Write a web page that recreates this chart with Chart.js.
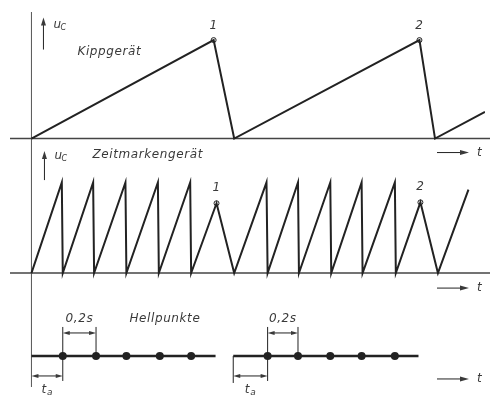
<!DOCTYPE html>
<html>
<head>
<meta charset="utf-8">
<script src="https://cdn.jsdelivr.net/npm/chart.js@4"></script>
<style>
  body { margin: 0; background: #fff; }
  canvas { display: block; }
</style>
</head>
<body>
<canvas id="chart" width="490" height="398"></canvas>
<script>
// Time in s, voltages relative to full tooth height
const tKipp = [0, 1.134, 1.262, 2.415, 2.512, 2.823];
const uKipp = [0, 1, 0, 1, 0, 0.27];

const tZeit = [0, 0.189, 0.195, 0.384, 0.390, 0.585, 0.591, 0.787, 0.793, 0.988, 0.994,
               1.152, 1.262, 1.463, 1.470, 1.659, 1.665, 1.860, 1.866, 2.055, 2.061,
               2.262, 2.268, 2.421, 2.530, 2.720];
const uZeit = [0, 1, 0, 1, 0, 1, 0, 1, 0, 1, 0,
               0.77, 0, 1, 0, 1, 0, 1, 0, 1, 0,
               1, 0, 0.78, 0, 0.92];

const peakLabels = ['1', '2'];
const tPeakKipp = [1.134, 2.415];
const uPeakKipp = [1, 1];
const tPeakZeit = [1.152, 2.421];
const uPeakZeit = [0.77, 0.78];

// Hellpunkte: two bursts
const tBurstStart = [0, 1.256];
const tBurstEnd = [1.146, 2.409];
const tDots1 = [0.195, 0.402, 0.591, 0.799, 0.994];
const tDots2 = [1.470, 1.659, 1.860, 2.055, 2.262];

const ink = '#222';
const textInk = '#3a3a3a';
const FONT = 'italic 12px "DejaVu Sans"';

function pts(xs, ys) {
    return xs.map((x, i) => ({ x: x, y: ys[i] }));
}

function arrowHead(ctx, x, y, dir, len, half) {
    // dir: 'r', 'l', 'u'
    ctx.beginPath();
    if (dir === 'r') {
        ctx.moveTo(x, y); ctx.lineTo(x - len, y - half); ctx.lineTo(x - len, y + half);
    } else if (dir === 'l') {
        ctx.moveTo(x, y); ctx.lineTo(x + len, y - half); ctx.lineTo(x + len, y + half);
    } else {
        ctx.moveTo(x, y); ctx.lineTo(x - half, y + len); ctx.lineTo(x + half, y + len);
    }
    ctx.closePath();
    ctx.fill();
}

function line(ctx, x1, y1, x2, y2) {
    ctx.beginPath();
    ctx.moveTo(x1, y1);
    ctx.lineTo(x2, y2);
    ctx.stroke();
}

function uLabel(ctx, x, y) {
    ctx.font = FONT;
    ctx.fillText('u', x, y);
    ctx.font = 'italic 8px "DejaVu Sans"';
    ctx.fillText('C', x + 7, y + 3);
}

const diagramPlugin = {
    id: 'diagram',
    beforeDatasetsDraw(chart) {
        const ctx = chart.ctx;
        const xs = chart.scales.x;
        const x0 = xs.getPixelForValue(0);
        const yTop = chart.scales.yKipp.getPixelForValue(0);
        const yMid = chart.scales.yZeit.getPixelForValue(0);
        ctx.save();
        ctx.strokeStyle = '#555';
        ctx.lineWidth = 1;
        line(ctx, x0, 12, x0, 387);
        ctx.strokeStyle = '#444';
        ctx.lineWidth = 1.5;
        line(ctx, 10, yTop, chart.width, yTop);
        line(ctx, 10, yMid, chart.width, yMid);
        ctx.restore();
    },
    afterDatasetsDraw(chart) {
        const ctx = chart.ctx;
        const xs = chart.scales.x;
        const yK = chart.scales.yKipp;
        const yZ = chart.scales.yZeit;
        const yH = chart.scales.yHell;
        const x0 = xs.getPixelForValue(0);
        const yTop = yK.getPixelForValue(0);
        const yMid = yZ.getPixelForValue(0);
        const yBot = yH.getPixelForValue(0);

        ctx.save();
        ctx.fillStyle = textInk;
        ctx.strokeStyle = ink;
        ctx.lineWidth = 1;
        ctx.textBaseline = 'middle';

        // u_C arrows
        line(ctx, x0 + 12, yTop - 89, x0 + 12, yTop - 116);
        arrowHead(ctx, x0 + 12, yTop - 121, 'u', 8, 2.5);
        uLabel(ctx, x0 + 22, yTop - 114);
        line(ctx, x0 + 13, yMid - 93, x0 + 13, yMid - 116);
        arrowHead(ctx, x0 + 13, yMid - 122, 'u', 8, 2.5);
        uLabel(ctx, x0 + 23, yMid - 117);

        ctx.font = FONT;
        ctx.letterSpacing = '0.6px';
        ctx.textAlign = 'left';
        ctx.fillText('Kippgerät', x0 + 46, yTop - 87);
        ctx.fillText('Zeitmarkengerät', x0 + 61, yMid - 118);
        ctx.fillText('Hellpunkte', x0 + 98, yBot - 37);

        // peak numbers
        ctx.textAlign = 'center';
        peakLabels.forEach((lab, i) => {
            ctx.fillText(lab, xs.getPixelForValue(tPeakKipp[i]), yK.getPixelForValue(uPeakKipp[i]) - 14);
            ctx.fillText(lab, xs.getPixelForValue(tPeakZeit[i]), yZ.getPixelForValue(uPeakZeit[i]) - 15);
        });

        // -> t arrows
        [yTop + 14, yMid + 15, yBot + 23].forEach(y => {
            line(ctx, 437, y, 462, y);
            arrowHead(ctx, 469, y, 'r', 9, 2.5);
            ctx.textAlign = 'left';
            ctx.fillText('t', 477, y);
        });

        // dimension lines for each burst
        [[tBurstStart[0], tDots1], [tBurstStart[1], tDots2]].forEach(([ts, dots], k) => {
            const xs0 = xs.getPixelForValue(ts);
            const xd1 = xs.getPixelForValue(dots[0]);
            const xd2 = xs.getPixelForValue(dots[1]);
            if (k === 1) line(ctx, xs0, yBot, xs0, yBot + 27);
            line(ctx, xd1, yBot - 29, xd1, yBot + 25);
            line(ctx, xd2, yBot - 29, xd2, yBot);
            // 0,2 s
            const yd = yBot - 23;
            line(ctx, xd1 + 5, yd, xd2 - 5, yd);
            arrowHead(ctx, xd1, yd, 'l', 7, 2);
            arrowHead(ctx, xd2, yd, 'r', 7, 2);
            // t_a
            const ya = yBot + 20;
            line(ctx, xs0 + 5, ya, xd1 - 5, ya);
            arrowHead(ctx, xs0, ya, 'l', 7, 2);
            arrowHead(ctx, xd1, ya, 'r', 7, 2);

            ctx.textAlign = 'center';
            ctx.font = FONT;
            ctx.letterSpacing = '0.6px';
            ctx.fillText('0,2s', (xd1 + xd2) / 2, yBot - 37);
            const xm = (xs0 + xd1) / 2;
            ctx.fillText('t', xm - 3, yBot + 34);
            ctx.font = 'italic 9px "DejaVu Sans"';
            ctx.fillText('a', xm + 3, yBot + 37);
        });
        ctx.restore();
    }
};

const lineStyle = {
    showLine: true,
    pointRadius: 0,
    borderColor: ink,
    borderWidth: 2,
    tension: 0
};

new Chart(document.getElementById('chart'), {
    type: 'scatter',
    data: {
        datasets: [
            { ...lineStyle, data: pts(tKipp, uKipp), yAxisID: 'yKipp' },
            { ...lineStyle, data: pts(tZeit, uZeit), yAxisID: 'yZeit' },
            {
                data: pts(tPeakKipp, uPeakKipp), yAxisID: 'yKipp',
                pointRadius: 2.5, pointBackgroundColor: '#fff', pointBorderColor: ink, pointBorderWidth: 1
            },
            {
                data: pts(tPeakZeit, uPeakZeit), yAxisID: 'yZeit',
                pointRadius: 2.5, pointBackgroundColor: '#fff', pointBorderColor: ink, pointBorderWidth: 1
            },
            { ...lineStyle, data: [{ x: tBurstStart[0], y: 0 }, { x: tBurstEnd[0], y: 0 }], yAxisID: 'yHell', borderWidth: 2.5 },
            { ...lineStyle, data: [{ x: tBurstStart[1], y: 0 }, { x: tBurstEnd[1], y: 0 }], yAxisID: 'yHell', borderWidth: 2.5 },
            {
                data: pts(tDots1.concat(tDots2), tDots1.concat(tDots2).map(() => 0)), yAxisID: 'yHell',
                pointRadius: 4, pointBackgroundColor: ink, pointBorderColor: ink, pointBorderWidth: 0
            }
        ]
    },
    options: {
        responsive: false,
        animation: false,
        layout: { padding: 0 },
        plugins: { legend: { display: false }, tooltip: { enabled: false } },
        scales: {
            x: { type: 'linear', display: false, min: -0.1646, max: 2.823 },
            yKipp: { type: 'linear', display: false, min: -2.5842, max: 1.3564 },
            yZeit: { type: 'linear', display: false, min: -1.3226, max: 2.957 },
            yHell: { type: 'linear', display: false, min: -0.95, max: 9 }
        }
    },
    plugins: [diagramPlugin]
});
</script>
</body>
</html>
